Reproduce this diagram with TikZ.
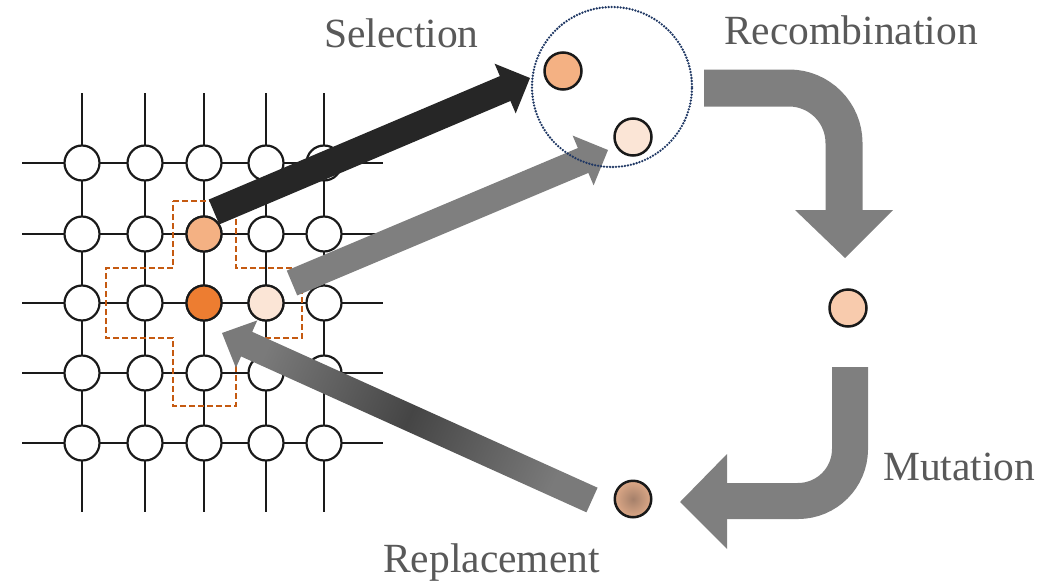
\documentclass[tikz,border=0pt]{standalone}
\usepackage{fontspec}
\setmainfont{Liberation Serif}
\usetikzlibrary{calc}
\definecolor{gridline}{HTML}{1A1A1A}
\definecolor{orangeA}{HTML}{F4B183}
\definecolor{orangeB}{HTML}{ED7D31}
\definecolor{orangeC}{HTML}{FBE5D6}
\definecolor{orangeD}{HTML}{F8CBAD}
\definecolor{tanout}{HTML}{DCA887}
\definecolor{tanin}{HTML}{A5806A}
\definecolor{crossc}{HTML}{C55A11}
\definecolor{arrowgray}{HTML}{7F7F7F}
\definecolor{arrowblack}{HTML}{262626}
\definecolor{dotc}{HTML}{203864}
\definecolor{labelc}{HTML}{595959}
\definecolor{repend}{HTML}{7A7A7A}
\definecolor{repmid}{HTML}{454545}
% #1 style, #2 tail coordinate, #3 tip coordinate, #4 half shaft, #5 half head, #6 head length
\newcommand\myfatarrow[6]{%
  \coordinate (#2-base) at ($(#3)!#6!(#2)$);
  \path[#1] ($(#2)!#4!90:(#3)$) -- ($(#2-base)!#4!-90:(#2)$) -- ($(#2-base)!#5!-90:(#2)$)
     -- (#3) -- ($(#2-base)!#5!90:(#2)$) -- ($(#2-base)!#4!90:(#2)$) -- ($(#2)!#4!-90:(#3)$) -- cycle;
}
\begin{document}
\begin{tikzpicture}[x=1pt,y=-1pt,
  gridln/.style={draw=gridline,line width=2pt},
  cell/.style={circle,draw=gridline,line width=2.2pt,fill=white,minimum size=35pt,inner sep=0pt},
  indiv/.style={circle,draw=black!90,line width=2.5pt,minimum size=37pt,inner sep=0pt},
  lab/.style={anchor=base west,inner sep=0pt,text=labelc,font=\fontsize{41.5}{50}\selectfont},
  crossln/.style={draw=crossc,line width=2.2pt,dash pattern=on 6pt off 3pt},
  bentarrow/.style={draw=arrowgray,line width=37pt},
  headfill/.style={fill=arrowgray}]
\useasboundingbox (0,0) rectangle (1056,586);
% grid lines
\foreach \r/\y in {1/163,2/234,3/303,4/373,5/443}{
  \coordinate (hl-\r) at (22,\y); \coordinate (hr-\r) at (383,\y);
  \draw[gridln] (hl-\r) -- (hr-\r);}
\foreach \c/\x in {1/82,2/145,3/204,4/266,5/324}{
  \coordinate (vt-\c) at (\x,93); \coordinate (vb-\c) at (\x,512);
  \draw[gridln] (vt-\c) -- (vb-\c);}
% grid cells
\foreach \r/\y in {1/163,2/234,3/303,4/373,5/443}{
  \foreach \c/\x in {1/82,2/145,3/204,4/266,5/324}{
    \node[cell] (g-\r-\c) at (\x,\y) {};}}
\node[cell,fill=orangeA] (g-2-3) at (204,234) {};
\node[cell,fill=orangeB] (g-3-3) at (204,303) {};
\node[cell,fill=orangeC] (g-3-4) at (266,303) {};
% neighbourhood
\draw[crossln] (173,201) -- (236,201) -- (236,268) -- (302,268) -- (302,338) -- (236,338)
  -- (236,406) -- (173,406) -- (173,338) -- (106,338) -- (106,268) -- (173,268) -- cycle;
% selection arrows
\coordinate (selA-tail) at (214,212); \coordinate (selA-tip) at (530,78);
\myfatarrow{fill=arrowblack}{selA-tail}{selA-tip}{13.5pt}{27pt}{27pt}
\coordinate (selB-tail) at (292,283); \coordinate (selB-tip) at (608,150);
\myfatarrow{fill=arrowgray}{selB-tail}{selB-tip}{13.5pt}{27pt}{27pt}
% replacement arrow
\coordinate (rep-tail) at (592,500); \coordinate (rep-tip) at (222,333);
\myfatarrow{left color=repend,right color=repend,middle color=repmid,shading angle=65.7}{rep-tail}{rep-tip}{13.5pt}{26pt}{27pt}
% selection pool
\node[circle,draw=dotc,line width=2.6pt,line cap=round,dash pattern=on 0pt off 3pt,minimum size=160pt,inner sep=0pt] (pool) at (612,87) {};
\node[indiv,fill=orangeA] (parA) at (563,71) {};
\node[indiv,fill=orangeC] (parB) at (633,137) {};
% recombination arrow
\coordinate (rec-start) at (704,88); \coordinate (rec-corner) at (844,88); \coordinate (rec-end) at (844,211);
\draw[bentarrow,rounded corners=55pt] (rec-start) -- (rec-corner) -- (rec-end);
\fill[headfill] (795,210) -- (893,210) -- (845,258) -- cycle;
\node[indiv,fill=orangeD] (child) at (848,308) {};
% mutation arrow
\coordinate (mut-start) at (850,367); \coordinate (mut-corner) at (850,501); \coordinate (mut-end) at (726,501);
\draw[bentarrow,line width=36pt,rounded corners=52pt] (mut-start) -- (mut-corner) -- (mut-end);
\fill[headfill] (727,454) -- (727,549) -- (680,502) -- cycle;
\node[indiv,shading=radial,inner color=tanin,outer color=tanout,draw=black!90,minimum size=36.5pt] (mutant) at (633,499) {};
% labels
\node[lab] (lab-sel) at (324,48) {Selection};
\node[lab] (lab-rec) at (724,45) {Recombination};
\node[lab] (lab-mut) at (883,480) {Mutation};
\node[lab] (lab-rep) at (383,572) {Replacement};
\end{tikzpicture}
\end{document}
